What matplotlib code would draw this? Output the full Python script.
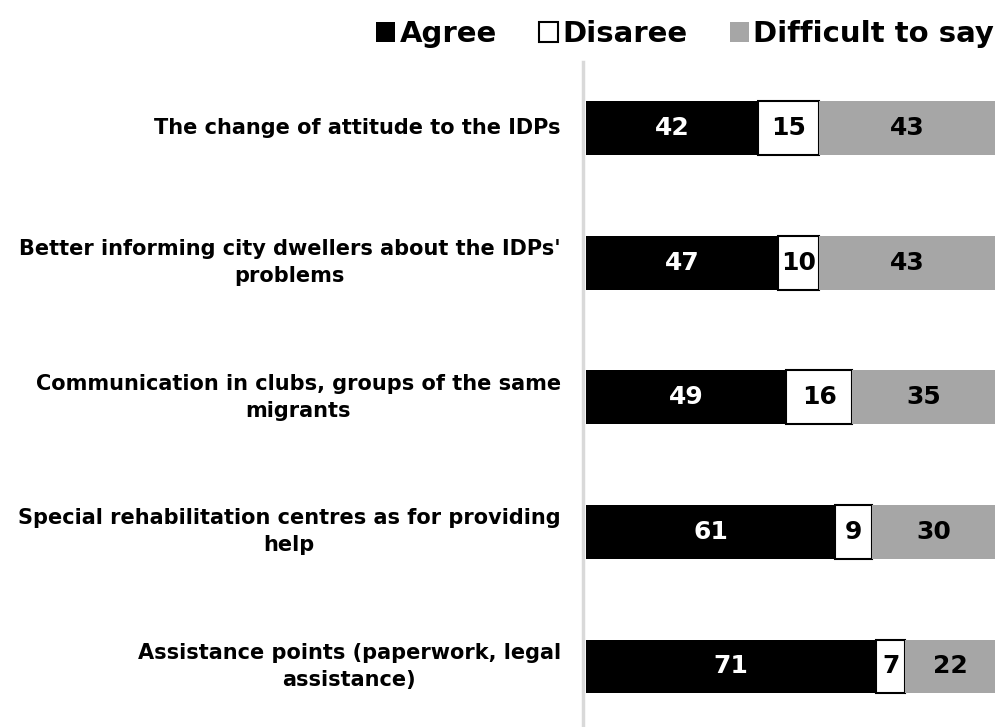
import matplotlib.pyplot as plt
import numpy as np

plt.rcParams['font.family'] = ['DejaVu Sans']

# Data
categories = [
    "The change of attitude to the IDPs",
    "Better informing city dwellers about the IDPs'\nproblems",
    "Communication in clubs, groups of the same\nmigrants",
    "Special rehabilitation centres as for providing\nhelp",
    "Assistance points (paperwork, legal\nassistance)",
]
agree = [42, 47, 49, 61, 71]
disagree = [15, 10, 16, 9, 7]
difficult = [43, 43, 35, 30, 22]
series_names = ["Agree", "Disaree", "Difficult to say"]

fig = plt.figure(figsize=(9.97, 7.27), dpi=100)
ax = fig.add_axes([586 / 997, 0, 409 / 997, 1 - 62 / 727])

y = np.arange(len(categories))
h = 0.4
a = np.array(agree)
d = np.array(disagree)
g = np.array(difficult)

b1 = ax.barh(y, a, h, color='black', label=series_names[0])
b2 = ax.barh(y, d, h, left=a, color='white', edgecolor='black', linewidth=1.5,
             label=series_names[1])
b3 = ax.barh(y, g, h, left=a + d, color='#a6a6a6', label=series_names[2])

for i in range(len(categories)):
    ax.text(a[i] / 2, y[i], str(agree[i]), color='white', ha='center', va='center',
            fontsize=18, fontweight='bold')
    ax.text(a[i] + d[i] / 2, y[i], str(disagree[i]), color='black', ha='center',
            va='center', fontsize=18, fontweight='bold')
    ax.text(a[i] + d[i] + g[i] / 2, y[i], str(difficult[i]), color='black',
            ha='center', va='center', fontsize=18, fontweight='bold')

# category labels, right-aligned left of the axis
tr = ax.get_yaxis_transform()
for i, lab in enumerate(categories):
    ax.text(-0.062, y[i], lab, transform=tr, ha='right', va='center',
            multialignment='center', fontsize=15, fontweight='bold',
            linespacing=1.45)

ax.set_xlim(0, 100)
ax.set_ylim(4.45, -0.49)
ax.set_xticks([])
ax.set_yticks([])
for s in ['top', 'right', 'bottom']:
    ax.spines[s].set_visible(False)
ax.spines['left'].set_color('#d9d9d9')
ax.spines['left'].set_linewidth(2.5)
ax.spines['left'].set_position(('outward', 2))

leg = fig.legend(handles=[b1, b2, b3], loc='upper right', bbox_to_anchor=(1.0, 0.976),
                 ncol=3, frameon=False, handlelength=0.65, handleheight=0.65,
                 handletextpad=0.15, columnspacing=1.45, borderaxespad=0.0,
                 borderpad=0.1, prop={'weight': 'bold', 'size': 21})

fig.savefig('out.png', dpi=100)
